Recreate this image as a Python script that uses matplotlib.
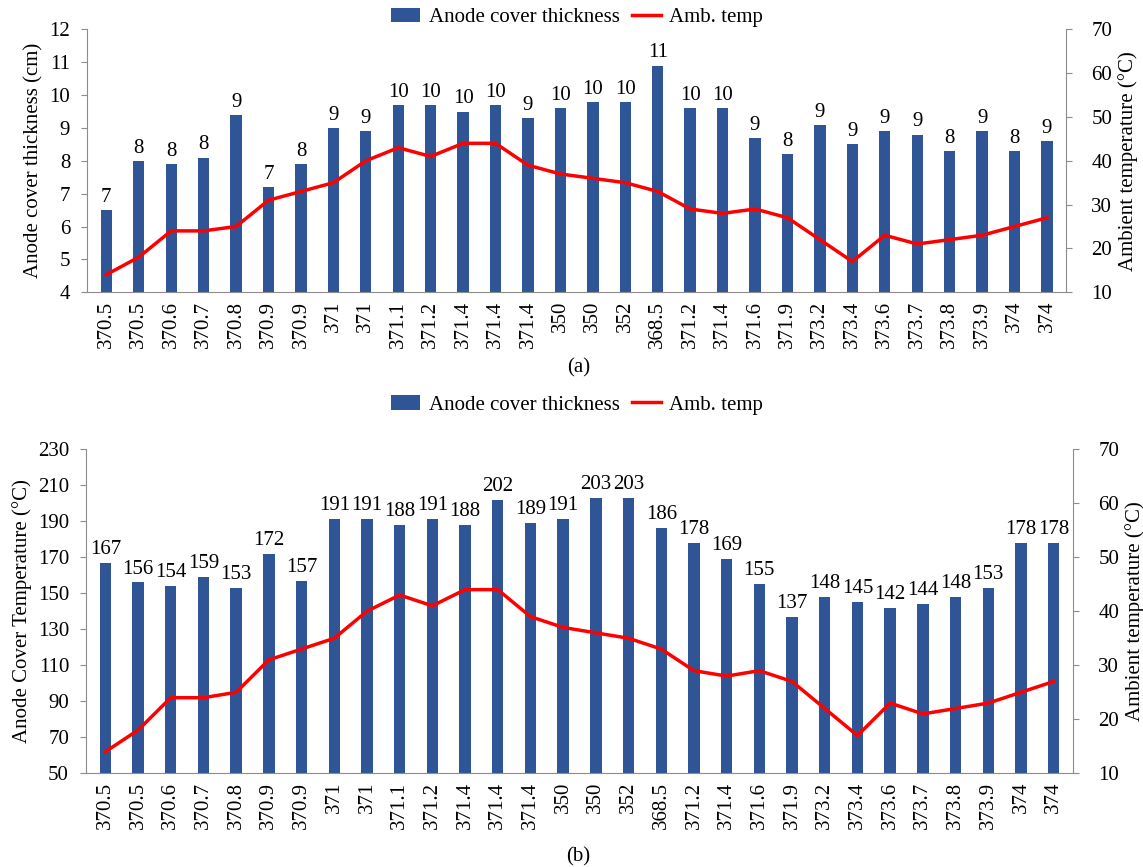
import matplotlib.pyplot as plt
import numpy as np

plt.rcParams['font.family'] = ['Liberation Serif', 'DejaVu Serif']

# x categories (same for both panels)
cats = ['370.5', '370.5', '370.6', '370.7', '370.8', '370.9', '370.9', '371', '371',
        '371.1', '371.2', '371.4', '371.4', '371.4', '350', '350', '352', '368.5',
        '371.2', '371.4', '371.6', '371.9', '373.2', '373.4', '373.6', '373.7',
        '373.8', '373.9', '374', '374']

# panel (a): anode cover thickness (cm)
thick = [6.5, 8.0, 7.9, 8.1, 9.4, 7.2, 7.9, 9.0, 8.9, 9.7, 9.7, 9.5, 9.7, 9.3, 9.6,
         9.8, 9.8, 10.9, 9.6, 9.6, 8.7, 8.2, 9.1, 8.5, 8.9, 8.8, 8.3, 8.9, 8.3, 8.6]

# panel (b): anode cover temperature (C)
cover_temp = [167, 156, 154, 159, 153, 172, 157, 191, 191, 188, 191, 188, 202, 189, 191,
              203, 203, 186, 178, 169, 155, 137, 148, 145, 142, 144, 148, 153, 178, 178]

# ambient temperature (C), both panels
amb = [14, 18, 24, 24, 25, 31, 33, 35, 40, 43, 41, 44, 44, 39, 37,
       36, 35, 33, 29, 28, 29, 27, 22, 17, 23, 21, 22, 23, 25, 27]

BLUE = '#2f5597'
RED = '#ff0000'
SPINE = '#8c8c8c'
FS = 15


def panel(ax, vals, ylim, yticks, ylabel, labels, legend_y, tag, tag_y):
    x = np.arange(len(cats))
    bars = ax.bar(x, vals, width=0.35, color=BLUE, zorder=2)
    for xi, v, lab in zip(x, vals, labels):
        ax.text(xi, v + (ylim[1] - ylim[0]) * 0.012, lab, ha='center', va='bottom', fontsize=FS)
    ax.set_ylim(*ylim)
    ax.set_yticks(yticks)
    ax.set_xlim(-0.6, len(cats) - 0.4)
    ax.set_xticks(x)
    ax.set_xticklabels(cats, rotation=90, fontsize=FS)
    ax.tick_params(axis='x', length=0, pad=6)
    ax.tick_params(axis='y', labelsize=FS, length=4, color=SPINE, pad=8)
    ax.set_ylabel(ylabel, fontsize=FS, labelpad=4)
    ax.spines['top'].set_visible(False)
    ax.spines['right'].set_visible(False)
    for s in ('left', 'bottom'):
        ax.spines[s].set_color(SPINE)

    ax2 = ax.twinx()
    line, = ax2.plot(x, amb, color=RED, lw=2.5, zorder=3)
    ax2.set_ylim(10, 70)
    ax2.set_yticks(range(10, 71, 10))
    ax2.tick_params(axis='y', labelsize=FS, length=4, color=SPINE, pad=14)
    ax2.set_ylabel('Ambient temperature (\u00b0C)', fontsize=FS, labelpad=4)
    ax2.spines['top'].set_visible(False)
    ax2.spines['left'].set_visible(False)
    ax2.spines['bottom'].set_visible(False)
    ax2.spines['right'].set_color(SPINE)

    fig.legend([bars, line], ['Anode cover thickness', 'Amb. temp'], loc='center',
               bbox_to_anchor=(0.505, legend_y), ncol=2, frameon=False, fontsize=FS,
               handlelength=1.4, columnspacing=0.6, handletextpad=0.4, borderpad=0.2)
    fig.text(0.506, tag_y, tag, ha='center', va='center', fontsize=FS)


fig = plt.figure(figsize=(11.43, 8.67), dpi=100)

ax_a = fig.add_axes([0.076, 0.663, 0.857, 0.303])
labels_a = [str(int(np.floor(v + 0.5))) for v in thick]
panel(ax_a, thick, (4, 12), range(4, 13), 'Anode cover thickness (cm)', labels_a,
      0.980, '(a)', 0.576)

ax_b = fig.add_axes([0.075, 0.108, 0.864, 0.374])
labels_b = [str(v) for v in cover_temp]
panel(ax_b, cover_temp, (50, 230), range(50, 231, 20), 'Anode Cover Temperature (\u00b0C)',
      labels_b, 0.533, '(b)', 0.012)

fig.savefig('out.png', dpi=100)
